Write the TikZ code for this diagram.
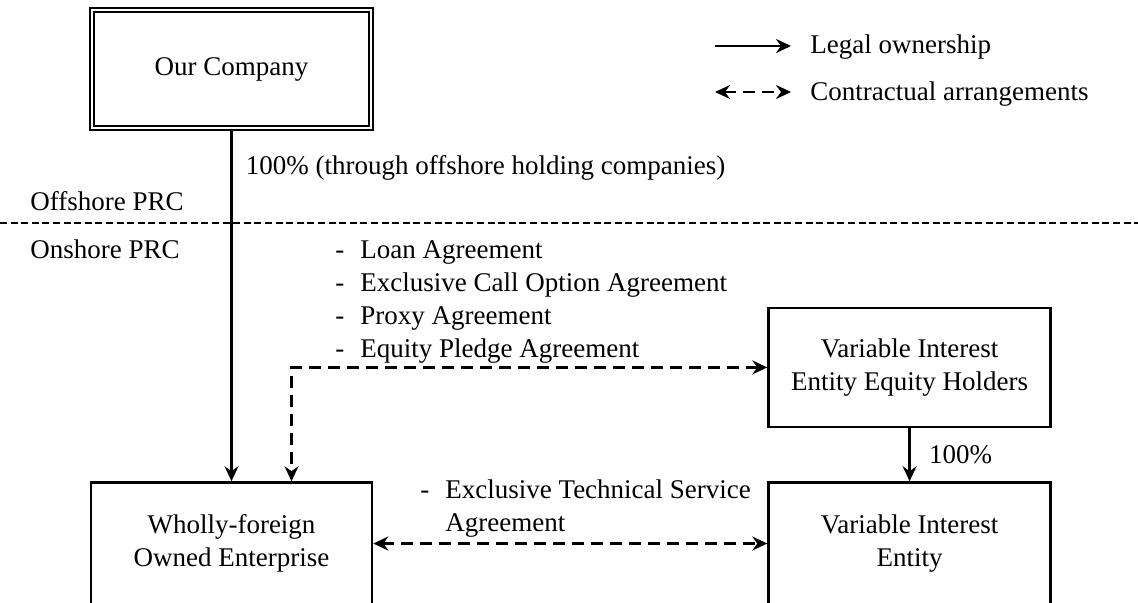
\documentclass[tikz,border=0pt]{standalone}
\usepackage{fontspec}
\setmainfont{Liberation Serif}
\usetikzlibrary{positioning}
\usetikzlibrary{arrows.meta}

\begin{document}
\begin{tikzpicture}[x=0.5pt, y=-0.5pt,
  font=\fontsize{13.5}{16.5}\selectfont,
  >={Stealth[length=7.5pt, width=7pt, inset=2.5pt]},
  box/.style={draw, line width=1.3pt, align=center, minimum width=140.5pt, minimum height=61pt},
  own/.style={->, line width=1.4pt},
  contract/.style={<->, line width=1.4pt, dash pattern=on 6pt off 3.5pt},
  shore/.style={line width=1pt, dash pattern=on 3.5pt off 1.8pt},
  lbl/.style={inner sep=0pt, anchor=base west}]
\path[use as bounding box] (0,0) rectangle (1138,602);
\clip (0,0) rectangle (1138,602);

\node (company) [box, double, line width=1.2pt, double distance=1pt,
  minimum width=139.5pt, minimum height=59pt] at (231.5,69) {Our Company};
\node (wfoe)    [box, below=176pt of company] {Wholly-foreign\\Owned Enterprise};
\node (vie)     [box, right=197pt of wfoe, minimum width=141pt] {Variable Interest\\Entity};
\node (holders) [box, above=26.5pt of vie, minimum width=141pt, minimum height=59.5pt]
  {Variable Interest\\Entity Equity Holders};
\coordinate (kink) at ([xshift=30pt]wfoe.north);

% offshore / onshore
\draw[shore] (0,223) -- (1138,223);
\node (offshore) [lbl] at (30,210) {Offshore PRC};
\node (onshore)  [lbl] at (30,258) {Onshore PRC};

\node (agreements) [lbl] at (335,258) {\begin{tabular}[t]{@{}l@{\hspace{8pt}}l@{}}
  - & Loan Agreement\\
  - & Exclusive Call Option Agreement\\
  - & Proxy Agreement\\
  - & Equity Pledge Agreement
\end{tabular}};
\node (service) [lbl] at (420,498) {\begin{tabular}[t]{@{}l@{\hspace{8pt}}l@{}}
  - & Exclusive Technical Service\\
    & Agreement
\end{tabular}};

\draw[own] (company) -- node[pos=.11, right=6.5pt, inner sep=0pt] (through)
  {100\% (through offshore holding companies)} (wfoe);
\draw[own] (holders) -- node[midway, right=9pt, inner sep=0pt] (full) {100\%} (vie);
\draw[contract] (holders.west) -| (kink);
\draw[contract] (wfoe) -- (vie);

% legend
\coordinate (ownA) at (715,46);
\coordinate (ownB) at (791,46);
\coordinate (conA) at (715,92);
\coordinate (conB) at (791,92);
\draw[own] (ownA) -- (ownB);
\draw[contract] (conA) -- (conB);
\node (legal)    [lbl] at (810,53)  {Legal ownership};
\node (contract) [lbl] at (810,100) {Contractual arrangements};
\end{tikzpicture}
\end{document}
